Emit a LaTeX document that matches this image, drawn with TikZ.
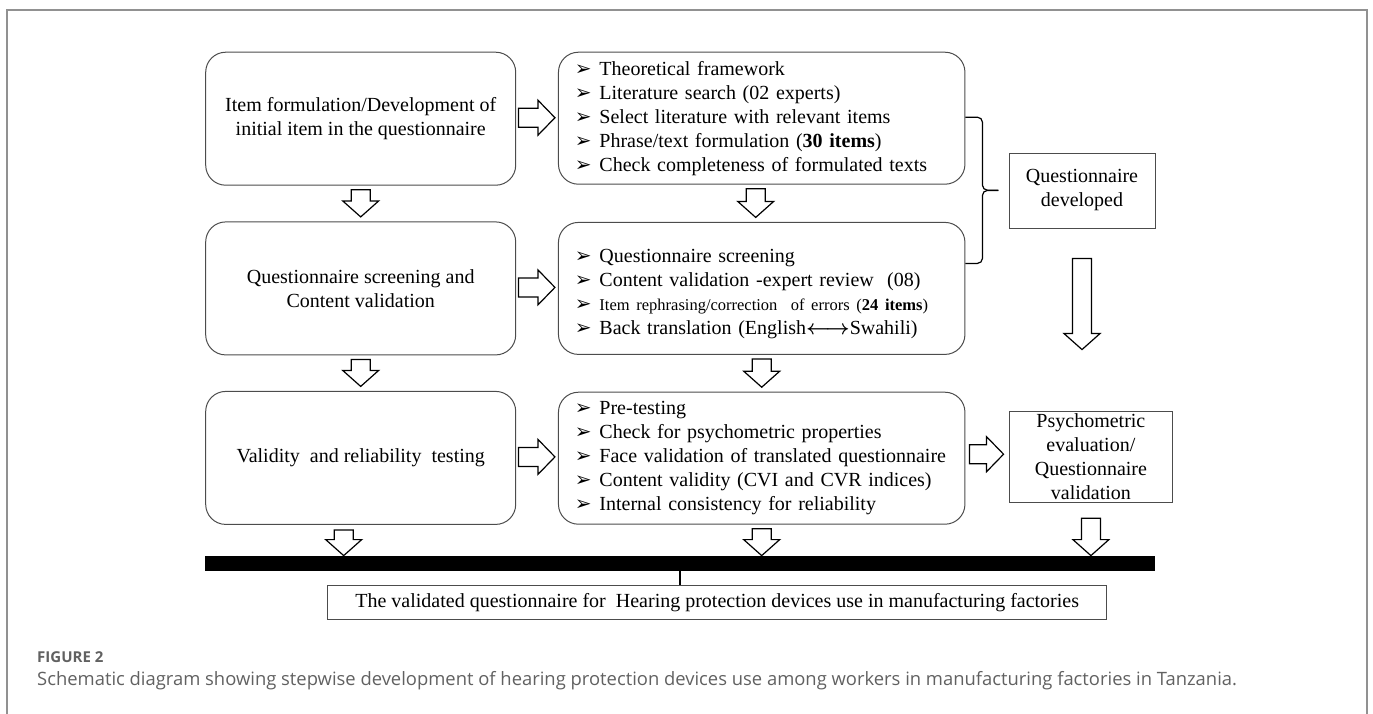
\documentclass[tikz,border=0pt]{standalone}
\usepackage{amsmath}
\usepackage{fontspec}
\setmainfont{Liberation Serif}
\newfontfamily\capfont{Open Sans}
\newfontfamily\symfont{DejaVu Sans}
\usetikzlibrary{calc}
\newcommand{\bul}{\makebox[24.5pt][l]{\raisebox{0pt}[0pt][0pt]{\symfont\fontsize{20}{20}\selectfont ➢}}}

\begin{document}
\begin{tikzpicture}[x=1pt, y=-1pt,
    stepbox/.style={draw=black!70, line width=1pt, rounded corners=20pt, minimum width=310pt, minimum height=133pt, align=center, font=\fontsize{20}{24}\selectfont},
    listbox/.style={draw=black!70, line width=1pt, rounded corners=20pt, minimum height=132pt, text width=373.5pt, inner xsep=16.5pt, align=left, font=\fontsize{20}{24}\selectfont},
    outbox/.style={draw=black!70, line width=1pt, inner sep=0pt, align=center, font=\fontsize{20}{24}\selectfont},
    downblock/.style={line width=1.2pt, to path={let \p1=(\tikztostart), \p2=(\tikztotarget) in
      (\x1-9.5pt,\y1) -- (\x1-9.5pt,\y2+16pt) -- (\x1-18pt,\y2+16pt) -- (\x1,\y2)
      -- (\x1+18pt,\y2+16pt) -- (\x1+9.5pt,\y2+16pt) -- (\x1+9.5pt,\y1) -- cycle}},
    rightblock/.style={line width=1.2pt, to path={let \p1=(\tikztostart), \p2=(\tikztotarget) in
      (\x1,\y1+9.5pt) -- (\x2-17pt,\y1+9.5pt) -- (\x2-17pt,\y1+17.5pt) -- (\x2,\y1)
      -- (\x2-17pt,\y1-17.5pt) -- (\x2-17pt,\y1-9.5pt) -- (\x1,\y1-9.5pt) -- cycle}}]
    \useasboundingbox (0,0) rectangle (1373,713);

    % draw outer frame
    \draw[line width=2pt, black!43] (7,10) rectangle (1366.7,740);

    % draw left column
    \node[stepbox] (step1) at (360.7,118.7) {Item formulation/Development of\\ initial item in the questionnaire};
    \node[stepbox] (step2) at (360.7,288.4) {Questionnaire screening and\\ Content validation};
    \node[stepbox] (step3) at (360.7,457.9) {Validity\ \ and reliability\ \ testing};

    % draw middle column
    \node[listbox] (mid1) at (761.7,118.2) {\bul Theoretical framework\\
      \bul Literature search (02 experts)\\
      \bul Select literature with relevant items\\
      \bul Phrase/text formulation (\textbf{30 items})\\
      \bul Check completeness of formulated texts};
    \node[listbox] (mid2) at (761.7,288.4) {\mbox{}\\
      \bul Questionnaire screening\\
      \bul Content validation -expert review\ \ (08)\\
      \bul{\fontsize{16.5}{24}\selectfont Item rephrasing/correction\ \ of errors (\textbf{24 items})}\\
      \bul Back translation (English$\boldsymbol{\longleftrightarrow}$Swahili)};
    \node[listbox] (mid3) at (761.7,458.2) {\bul Pre-testing\\
      \bul Check for psychometric properties\\
      \bul Face validation of translated questionnaire\\
      \bul Content validity (CVI and CVR indices)\\
      \bul Internal consistency for reliability};

    % draw right column
    \node[outbox, minimum width=146pt, minimum height=75pt] (qdev) at (1082,190.5) {Questionnaire\\ developed};
    \node[outbox, minimum width=163.7pt, minimum height=91.7pt] (psych) at (1090.9,456.9) {Psychometric\\ evaluation/\\ Questionnaire\\ validation};

    % draw bar and final box
    \node[fill=black, inner sep=0pt, minimum width=950pt, minimum height=15pt] (bar) at (680,563.3) {};
    \node[outbox, minimum width=779pt, minimum height=34.3pt] (final) at (717.2,602.8) {The validated questionnaire for\ \ Hearing protection devices use in manufacturing factories};
    \draw[line width=1.5pt] (bar.south) -- (bar.south |- final.north);

    % draw brace
    \coordinate (bracetop) at ([yshift=1pt]mid1.east);
    \coordinate (bracebot) at ([yshift=25pt]mid2.east);
    \draw[line width=1.2pt, rounded corners=5pt] (bracetop) -- ++(17,0) -- ++(0,73) -- ++(16,0);
    \draw[line width=1.2pt, rounded corners=5pt] (bracebot) -- ++(17,0) -- ++(0,-73) -- ++(16,0);

    % draw block arrows
    \draw[downblock] ([yshift=-4pt]step1.south) to ([yshift=4.5pt]step2.north);
    \draw[downblock] ([yshift=-4pt]step2.south) to ([yshift=4.5pt]step3.north);
    \draw[downblock] ([xshift=-17pt,yshift=-5pt]step3.south) to (bar.north);
    \draw[downblock] ([xshift=-6pt,yshift=-4pt]mid1.south) to ([yshift=4.5pt]mid2.north);
    \draw[downblock] ([yshift=-4pt]mid2.south) to ([yshift=4.5pt]mid3.north);
    \draw[downblock] ([yshift=-4pt]mid3.south) to (bar.north);
    \draw[downblock] ([yshift=-30pt]qdev.south) to ([yshift=61pt]psych.north);
    \draw[downblock] ([yshift=-15pt]psych.south) to (bar.north);
    \foreach \n in {1,2,3}
      \draw[rightblock] ([xshift=2.3pt,yshift=1pt]step\n.east) to ([xshift=-3pt]mid\n.west);
    \draw[rightblock] ([xshift=4pt,yshift=4pt]mid3.east) to ([xshift=-5pt]psych.west);

    % draw caption
    \node[anchor=base west, inner sep=0pt, font=\capfont\bfseries\fontsize{15}{18}\selectfont, text=black!62] (figlabel) at (37,662) {FIGURE 2};
    \node[anchor=base west, inner sep=0pt, font=\capfont\fontsize{18.4}{22}\selectfont, text=black!62] (caption) at (37,685) {Schematic diagram showing stepwise development of hearing protection devices use among workers in manufacturing factories in Tanzania.};
\end{tikzpicture}
\end{document}
